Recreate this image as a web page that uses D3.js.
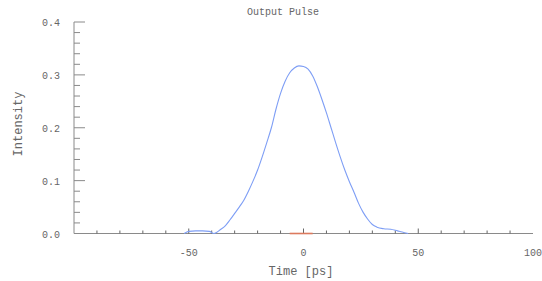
<!DOCTYPE html>
<html lang="en">
<head>
    <meta charset='utf-8'>
    <title>Output Pulse</title>
    <style>
        body{ margin: 0; background: #fff; }
        text { font-family: "Liberation Mono", "DejaVu Sans Mono", monospace; fill: #666; }
    </style>
</head>
<body>
<div id="chart"></div>
<script src="https://cdn.jsdelivr.net/npm/d3@7"></script>
<script>
    // output pulse
    var time = [-52, -50, -47, -44, -41, -39, -36, -34, -32, -30, -28, -26, -24, -22, -20, -18, -16, -14, -12, -10, -8, -6, -4, -2,
        0, 2, 4, 6, 8, 10, 12, 14, 16, 18, 20, 22, 24, 26, 28, 30, 32, 35, 38, 41, 43, 45.6];
    var intensity = [0, 0.004, 0.005, 0.005, 0.004, 0, 0.008, 0.015, 0.026, 0.038, 0.05, 0.063, 0.08, 0.099, 0.12, 0.145, 0.172, 0.2, 0.235, 0.265, 0.288, 0.304, 0.313, 0.317,
        0.316, 0.311, 0.298, 0.278, 0.254, 0.228, 0.2, 0.172, 0.145, 0.12, 0.098, 0.078, 0.057, 0.04, 0.027, 0.017, 0.012, 0.009, 0.008, 0.005, 0.003, 0];
    // small red trace on the baseline
    var inputTime = [-6, -2, 2, 4];
    var inputVal = [0, 0, 0, 0];

    var xTicks = [-50, 0, 50, 100];
    var yTicks = [0, 0.1, 0.2, 0.3, 0.4];

    var width = 542, height = 281;
    var mLeft = 74, mRight = 533, mTop = 22, mBottom = 233.5;

    var svg = d3.select("#chart").append("svg")
        .attr("width", width).attr("height", height);

    var x = d3.scaleLinear().domain([-100, 100]).range([mLeft, mRight]);
    var y = d3.scaleLinear().domain([0, 0.4]).range([mBottom, mTop]);

    var axisColor = "#8a8a8a";

    // x axis
    svg.append("line").attr("x1", mLeft).attr("x2", mRight).attr("y1", mBottom).attr("y2", mBottom)
        .attr("stroke", axisColor);
    svg.selectAll(".xminor").data(d3.range(-90, 100, 10)).enter().append("line")
        .attr("x1", function(d){ return x(d); }).attr("x2", function(d){ return x(d); })
        .attr("y1", mBottom).attr("y2", function(d){ return d % 50 === 0 ? mBottom - 5 : mBottom - 3; })
        .attr("stroke", "#666");

    // curves
    var line = d3.line().curve(d3.curveMonotoneX)
        .x(function(d){ return x(d[0]); })
        .y(function(d){ return y(d[1]); });
    svg.append("path").datum(d3.zip(time, intensity))
        .attr("d", line).attr("fill", "none").attr("stroke", "#7e9ef5").attr("stroke-width", 1.1);
    svg.append("path").datum(d3.zip(inputTime, inputVal))
        .attr("d", line).attr("fill", "none").attr("stroke", "#dc7a5e").attr("stroke-width", 1.6);

    svg.selectAll(".xlab").data(xTicks).enter().append("text")
        .attr("x", function(d){ return x(d); }).attr("y", 256)
        .attr("text-anchor", "middle").style("font-size", "10px")
        .text(function(d){ return d; });

    // y axis
    svg.append("line").attr("x1", mLeft).attr("x2", mLeft).attr("y1", mTop).attr("y2", mBottom)
        .attr("stroke", axisColor);
    svg.selectAll(".yminor").data(d3.range(0, 0.401, 0.02)).enter().append("line")
        .attr("y1", function(d){ return y(d); }).attr("y2", function(d){ return y(d); })
        .attr("x1", mLeft).attr("x2", function(d){ return Math.round(d * 100) % 10 === 0 ? mLeft + 11 : mLeft + 6; })
        .attr("stroke", axisColor);
    svg.selectAll(".ylab").data(yTicks).enter().append("text")
        .attr("x", 60).attr("y", function(d){ return y(d) + 4; })
        .attr("text-anchor", "end").style("font-size", "10px")
        .text(function(d){ return d.toFixed(1); });

    // labels
    svg.append("text").attr("x", 283).attr("y", 15).attr("text-anchor", "middle")
        .style("font-size", "10px").text("Output Pulse");
    svg.append("text").attr("x", 301).attr("y", 275).attr("text-anchor", "middle")
        .style("font-size", "12px").text("Time [ps]");
    svg.append("text").attr("transform", "translate(22,124) rotate(-90)").attr("text-anchor", "middle")
        .style("font-size", "12px").text("Intensity");
</script>
</body>
</html>
